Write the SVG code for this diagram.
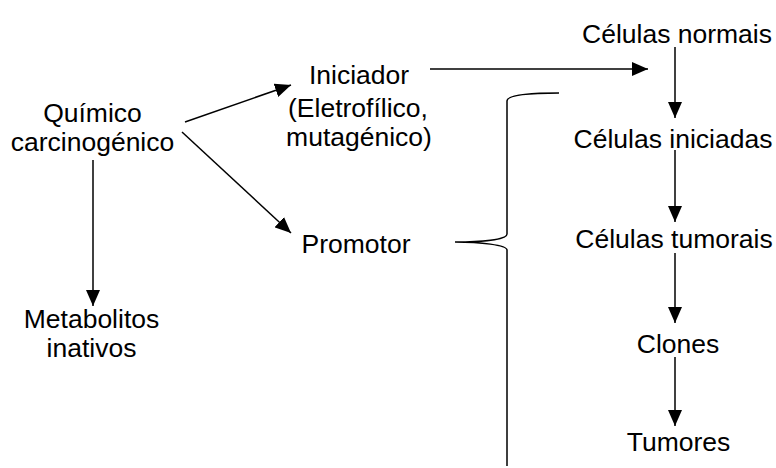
<svg xmlns="http://www.w3.org/2000/svg" width="776" height="468" viewBox="0 0 776 468">
<style>
text{font-family:"Liberation Sans",Arial,sans-serif;font-size:26.5px;fill:#000;text-anchor:middle}
.c{stroke:#000;stroke-width:1.5;fill:none}
</style>
<defs>
<marker id="ah" viewBox="0 0 16 14" refX="16" refY="7" markerWidth="16" markerHeight="14" markerUnits="userSpaceOnUse" orient="auto">
<path d="M0,0 L16,7 L0,14 Z" fill="#000"/>
</marker>
</defs>
<rect width="776" height="468" fill="#fff"/>
<g id="quimico"><text x="92.5" y="122">Químico</text><text x="92.5" y="151">carcinogénico</text></g>
<g id="metabolitos"><text x="91.5" y="328">Metabolitos</text><text x="91.5" y="357">inativos</text></g>
<g id="iniciador"><text x="359" y="84">Iniciador</text><text x="358" y="117">(Eletrofílico,</text><text x="359" y="146">mutagénico)</text></g>
<g id="promotor"><text x="356" y="253">Promotor</text></g>
<g id="normais"><text x="677" y="43">Células normais</text></g>
<g id="iniciadas"><text x="673" y="148">Células iniciadas</text></g>
<g id="tumorais"><text x="674" y="248">Células tumorais</text></g>
<g id="clones"><text x="678" y="353">Clones</text></g>
<g id="tumores"><text x="678.5" y="451">Tumores</text></g>
<g id="connectors">
<line class="c" x1="93" y1="160" x2="93" y2="306" marker-end="url(#ah)"/>
<line class="c" x1="185" y1="122" x2="291" y2="85" marker-end="url(#ah)"/>
<line class="c" x1="182" y1="132" x2="291" y2="233" marker-end="url(#ah)"/>
<line class="c" x1="430" y1="69" x2="648" y2="69" marker-end="url(#ah)"/>
<line class="c" x1="675" y1="47" x2="675" y2="118" marker-end="url(#ah)"/>
<line class="c" x1="675" y1="150" x2="675" y2="222" marker-end="url(#ah)"/>
<line class="c" x1="675" y1="253" x2="675" y2="323" marker-end="url(#ah)"/>
<line class="c" x1="675" y1="357" x2="675" y2="426" marker-end="url(#ah)"/>
<path class="c" d="M559,93 C530,93 507,95 507,101 L507,234 C507,240 480,242 455,242 C480,242 507,245 507,250 L507,466"/>
</g>
</svg>
